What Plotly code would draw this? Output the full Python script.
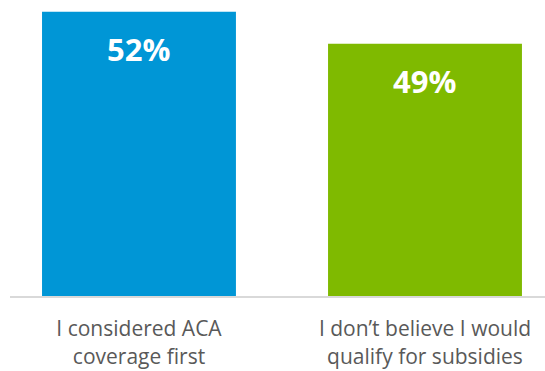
import plotly.graph_objects as go

categories = ["I considered ACA<br>coverage first", "I don’t believe I would<br>qualify for subsidies"]
values = [52, 49]
labels = ["52%", "49%"]
colors = ["#0096D6", "#7FBA00"]

fig = go.Figure()
fig.add_trace(go.Bar(
    x=categories, y=values, marker=dict(color=colors, line=dict(width=0)),
    width=0.678, hoverinfo="skip",
))
for c, v, t in zip(categories, values, labels):
    fig.add_annotation(x=c, y=v, text=t, showarrow=False, yanchor="middle",
                       yshift=-37, font=dict(family="Open Sans", size=31, color="white", weight="bold"))

fig.update_layout(
    width=545, height=371, margin=dict(l=10, r=0, t=0, b=75, autoexpand=False),
    paper_bgcolor="white", plot_bgcolor="white", showlegend=False,
    font=dict(family="Open Sans", color="#595959"),
    xaxis=dict(range=[-0.451, 1.4196], showgrid=False, zeroline=False, automargin=False,
               showline=True, linecolor="#d9d9d9", linewidth=2,
               tickfont=dict(size=21, color="#595959"), ticks="", ticklabelstandoff=13),
    yaxis=dict(range=[25.4, 53.1], visible=False, automargin=False),
)
fig.write_html("out.html")
